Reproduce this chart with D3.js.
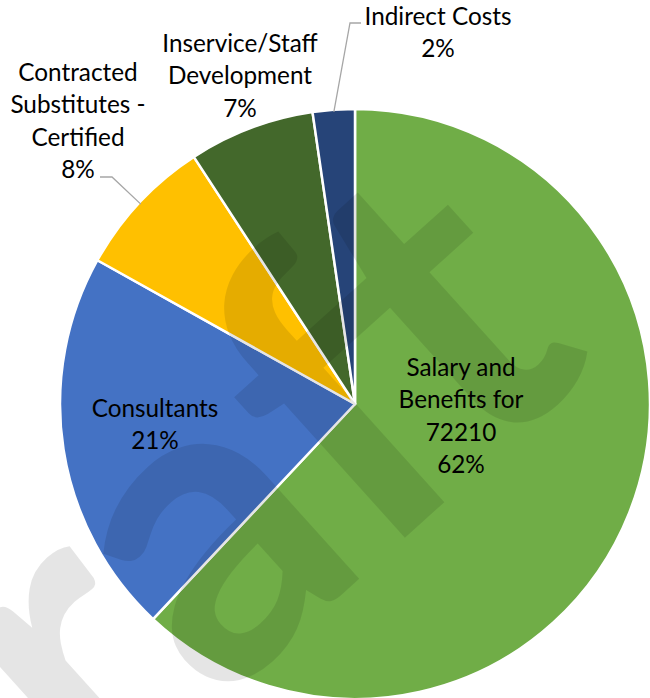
<!DOCTYPE html>
<html>
<head>
<meta charset="utf-8">
<script src="https://cdn.jsdelivr.net/npm/d3@7"></script>
<style>
  html, body { margin: 0; padding: 0; background: #fff; }
  svg { display: block; }
</style>
</head>
<body>
<svg id="chart" width="650" height="698"></svg>
<script>
// ---- data ----
const categories = [
  "Salary and Benefits for 72210",
  "Consultants",
  "Contracted Substitutes - Certified",
  "Inservice/Staff Development",
  "Indirect Costs"
];
const values = [62.0, 21.1, 7.7, 6.9, 2.3];
const labelLines = [
  ["Salary and", "Benefits for", "72210"],
  ["Consultants"],
  ["Contracted", "Substitutes -", "Certified"],
  ["Inservice/Staff", "Development"],
  ["Indirect Costs"]
];
const colors = ["#70AD47", "#4472C4", "#FFC000", "#43682B", "#264478"];
const watermarkText = "Draft";

// ---- layout ----
const W = 650, H = 698;
const cx = 355, cy = 404, R = 295;
const svg = d3.select("#chart");
const fontFamily = "Lato, 'Open Sans', sans-serif";

const pie = d3.pie().sort(null).value(d => d).startAngle(0).endAngle(2 * Math.PI);
const arcs = pie(values);
const arc = d3.arc().innerRadius(0).outerRadius(R);
const total = d3.sum(values);

const g = svg.append("g").attr("transform", `translate(${cx},${cy})`);
g.selectAll("path.slice")
  .data(arcs)
  .join("path")
  .attr("class", "slice")
  .attr("d", arc)
  .attr("fill", (d, i) => colors[i])
  .attr("stroke", "#fff")
  .attr("stroke-width", 2.5)
  .attr("stroke-linejoin", "round");

// label placement (centre x, first baseline y) in page coords
const labelPos = [
  { x: 461, y: 376, anchor: "middle" },
  { x: 155, y: 417, anchor: "middle" },
  { x: 78, y: 81, anchor: "middle" },
  { x: 240, y: 52, anchor: "middle" },
  { x: 438, y: 25, anchor: "middle" }
];
const lineH = 32.4;
let fontSize = 24;

// measure to fit Calibri-like width
const probe = svg.append("text").attr("font-family", fontFamily).attr("font-size", 24).text("Indirect Costs");
const pw = probe.node().getComputedTextLength();
probe.remove();
if (pw > 0) fontSize = 24 * 147 / pw;

// leader lines for outside labels (Substitutes and Indirect)
const leaderColor = "#A6A6A6";
function rimPoint(d, rr) {
  const a = (d.startAngle + d.endAngle) / 2;
  return [cx + rr * Math.sin(a), cy - rr * Math.cos(a)];
}
const leaders = [
  { i: 2, pts: [[100, 177], [112, 177]] },
  { i: 4, pts: [[361, 23], [350, 23]] }
];
leaders.forEach(l => {
  const end = rimPoint(arcs[l.i], R - 2);
  svg.append("path")
    .attr("d", d3.line()([...l.pts, end]))
    .attr("fill", "none")
    .attr("stroke", leaderColor)
    .attr("stroke-width", 1.3);
});

// labels
const labels = svg.append("g").attr("font-family", fontFamily).attr("font-size", fontSize).attr("fill", "#000");
arcs.forEach((d, i) => {
  const p = labelPos[i];
  const pct = Math.round(values[i] / total * 100) + "%";
  const lines = [...labelLines[i], pct];
  const t = labels.append("text").attr("text-anchor", p.anchor);
  lines.forEach((ln, k) => {
    t.append("tspan").attr("x", p.x).attr("y", p.y + k * lineH).text(ln);
  });
});

// watermark
svg.append("text")
  .attr("transform", "translate(600,362) rotate(-42)")
  .attr("text-anchor", "end")
  .attr("font-family", fontFamily)
  .attr("font-weight", "bold")
  .attr("font-size", 430)
  .attr("fill", "#000")
  .attr("fill-opacity", 0.1)
  .text(watermarkText);
</script>
</body>
</html>
